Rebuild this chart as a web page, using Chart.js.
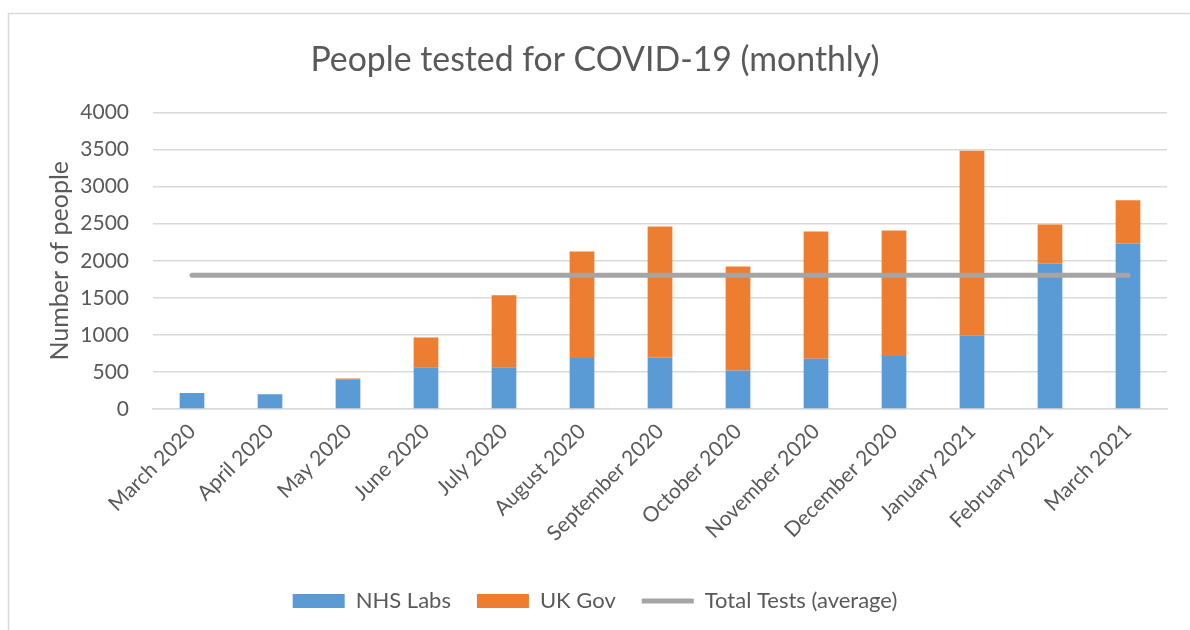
<!DOCTYPE html>
<html>
<head>
<meta charset="utf-8">
<script src="https://cdn.jsdelivr.net/npm/chart.js@4"></script>
<style>
  html, body { margin: 0; padding: 0; background: #fff; }
  #wrap { width: 1190px; height: 630px; position: relative; }
</style>
</head>
<body>
<div id="wrap"><canvas id="myChart" width="1190" height="630"></canvas></div>
<script>
const months = ["March 2020", "April 2020", "May 2020", "June 2020", "July 2020", "August 2020",
  "September 2020", "October 2020", "November 2020", "December 2020", "January 2021",
  "February 2021", "March 2021"];
const nhsLabs = [215, 200, 400, 565, 562, 688, 696, 518, 678, 714, 988, 1963, 2233];
const ukGov = [0, 0, 10, 400, 974, 1437, 1766, 1405, 1716, 1694, 2498, 526, 584];
const avgTests = [1805, 1805, 1805, 1805, 1805, 1805, 1805, 1805, 1805, 1805, 1805, 1805, 1805];
const yTicks = [0, 500, 1000, 1500, 2000, 2500, 3000, 3500, 4000];

const textColor = "#595959";
const gridColor = "#D9D9D9";

// outer frame, like the excel chart border
const framePlugin = {
  id: "frame",
  beforeDraw(chart) {
    const ctx = chart.ctx;
    ctx.save();
    ctx.fillStyle = "#fff";
    ctx.fillRect(0, 0, chart.width, chart.height);
    ctx.strokeStyle = gridColor;
    ctx.lineWidth = 1.5;
    ctx.strokeRect(8.5, 13.5, 1300, 700);
    ctx.restore();
  }
};

Chart.defaults.font.family = "Lato, 'Open Sans', sans-serif";
Chart.defaults.color = textColor;

new Chart("myChart", {
  type: "bar",
  data: {
    labels: months,
    datasets: [
      {
        label: "NHS Labs",
        data: nhsLabs,
        backgroundColor: "#5B9BD5",
        borderWidth: 0,
        stack: "tests",
        pointStyle: "rect",
        categoryPercentage: 1,
        barPercentage: 0.317
      },
      {
        label: "UK Gov",
        data: ukGov,
        backgroundColor: "#ED7D31",
        borderWidth: 0,
        stack: "tests",
        pointStyle: "rect",
        categoryPercentage: 1,
        barPercentage: 0.317
      },
      {
        type: "line",
        label: "Total Tests (average)",
        data: avgTests,
        borderColor: "#A5A5A5",
        backgroundColor: "#A5A5A5",
        borderWidth: 5,
        borderCapStyle: "round",
        pointRadius: 0,
        pointStyle: "line",
        stack: "avg",
        order: -1
      }
    ]
  },
  options: {
    responsive: false,
    animation: false,
    layout: { padding: { left: 0, right: 0, top: 0, bottom: 8 } },
    plugins: {
      tooltip: { enabled: false },
      title: {
        display: true,
        text: "People tested for COVID-19 (monthly)",
        color: textColor,
        font: { size: 33.8, weight: "normal" },
        padding: { top: 40, bottom: 32 }
      },
      legend: {
        position: "bottom",
        labels: {
          usePointStyle: true,
          pointStyleWidth: 52,
          boxWidth: 52,
          boxHeight: 14,
          padding: 26,
          color: textColor,
          font: { size: 22 },
          sort: (a, b) => a.datasetIndex - b.datasetIndex
        }
      }
    },
    scales: {
      x: {
        stacked: true,
        grid: { display: false, drawTicks: false },
        border: { color: gridColor, width: 1.5 },
        ticks: {
          minRotation: 45,
          maxRotation: 45,
          autoSkip: false,
          padding: 10,
          font: { size: 21 },
          color: textColor
        },
        afterFit(scale) {
          scale.height = 155;
          scale.paddingRight = 23; // keep plot area off the right edge
        }
      },
      y: {
        stacked: true,
        min: 0,
        max: 4000,
        afterBuildTicks(scale) { scale.ticks = yTicks.map(v => ({ value: v })); },
        grid: { color: gridColor, lineWidth: 1.5, drawTicks: false },
        border: { display: false },
        ticks: {
          padding: 24,
          font: { size: 21 },
          color: textColor,
          callback: v => String(v)
        },
        title: {
          display: true,
          text: "Number of people",
          color: textColor,
          font: { size: 25 },
          padding: { top: 45, bottom: 0 }
        },
        afterFit(scale) { scale.width = 153; }
      }
    }
  },
  plugins: [framePlugin]
});
</script>
</body>
</html>
